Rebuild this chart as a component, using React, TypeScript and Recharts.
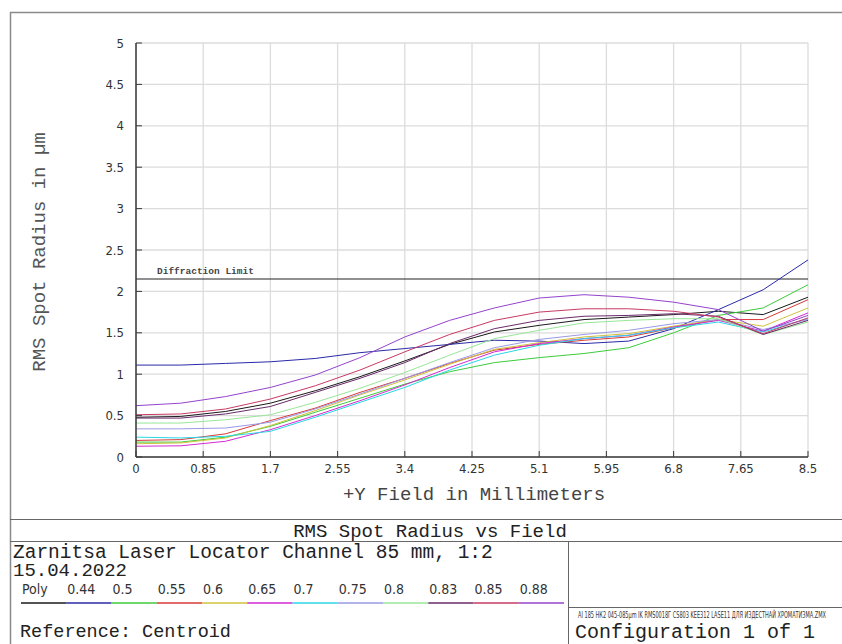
import { LineChart, Line, XAxis, YAxis, CartesianGrid, ReferenceLine } from "recharts";

// field points in mm (16 samples across the field)
const fieldMm = [0, 0.567, 1.133, 1.7, 2.267, 2.833, 3.4, 3.967, 4.533, 5.1, 5.667, 6.233, 6.8, 7.367, 7.933, 8.5];

// RMS spot radius (um) per wavelength
const poly = [0.48, 0.49, 0.55, 0.65, 0.8, 0.97, 1.16, 1.36, 1.51, 1.59, 1.66, 1.69, 1.72, 1.76, 1.72, 1.93];
const w044 = [1.11, 1.11, 1.13, 1.15, 1.19, 1.26, 1.31, 1.36, 1.41, 1.4, 1.37, 1.4, 1.55, 1.78, 2.02, 2.38];
const w050 = [0.18, 0.18, 0.24, 0.37, 0.54, 0.71, 0.88, 1.03, 1.14, 1.2, 1.25, 1.32, 1.5, 1.71, 1.8, 2.08];
const w055 = [0.2, 0.21, 0.28, 0.44, 0.59, 0.78, 0.95, 1.13, 1.29, 1.36, 1.41, 1.45, 1.56, 1.66, 1.66, 1.9];
const w060 = [0.16, 0.17, 0.23, 0.38, 0.56, 0.75, 0.93, 1.12, 1.3, 1.38, 1.45, 1.49, 1.58, 1.66, 1.58, 1.8];
const w065 = [0.13, 0.135, 0.19, 0.33, 0.5, 0.68, 0.87, 1.08, 1.27, 1.37, 1.43, 1.47, 1.57, 1.65, 1.52, 1.74];
const w070 = [0.24, 0.23, 0.25, 0.31, 0.48, 0.66, 0.84, 1.05, 1.23, 1.35, 1.43, 1.47, 1.56, 1.63, 1.51, 1.67];
const w075 = [0.34, 0.34, 0.35, 0.42, 0.58, 0.76, 0.95, 1.14, 1.32, 1.42, 1.48, 1.53, 1.61, 1.66, 1.54, 1.66];
const w080 = [0.41, 0.41, 0.45, 0.51, 0.66, 0.83, 1.02, 1.23, 1.43, 1.53, 1.62, 1.65, 1.67, 1.67, 1.48, 1.63];
const w083 = [0.47, 0.47, 0.52, 0.61, 0.78, 0.95, 1.14, 1.37, 1.55, 1.65, 1.7, 1.71, 1.73, 1.7, 1.48, 1.65];
const w085 = [0.51, 0.52, 0.58, 0.7, 0.86, 1.05, 1.27, 1.48, 1.65, 1.75, 1.79, 1.79, 1.76, 1.69, 1.49, 1.68];
const w088 = [0.62, 0.65, 0.73, 0.84, 0.99, 1.2, 1.45, 1.65, 1.8, 1.92, 1.96, 1.93, 1.87, 1.78, 1.52, 1.71];

const seriesNames = ["Poly", "0.44", "0.5", "0.55", "0.6", "0.65", "0.7", "0.75", "0.8", "0.83", "0.85", "0.88"];
const seriesValues = [poly, w044, w050, w055, w060, w065, w070, w075, w080, w083, w085, w088];
const seriesColors = [
  "#1a1a1a", // poly
  "#2a2aa8", // 0.44 blue
  "#3ccc3c", // 0.5 green
  "#d83a3a", // 0.55 red
  "#cfc23c", // 0.6 yellow
  "#d22ad2", // 0.65 magenta
  "#2ad6e6", // 0.7 cyan
  "#9a9ae6", // 0.75 lavender
  "#98e698", // 0.8 light green
  "#6a2a6a", // 0.83 dark purple
  "#c83a64", // 0.85 crimson
  "#9444cc", // 0.88 purple
];

const xTicks = [0, 0.85, 1.7, 2.55, 3.4, 4.25, 5.1, 5.95, 6.8, 7.65, 8.5];
const yTicks = [0, 0.5, 1, 1.5, 2, 2.5, 3, 3.5, 4, 4.5, 5];
const diffractionLimit = 2.15;

const chartData = fieldMm.map((f, i) => {
  const row: any = { field: f };
  seriesNames.forEach((name, s) => {
    row[name] = seriesValues[s][i];
  });
  return row;
});

const W = 842;
const H = 644;
const MONO = "'Liberation Mono', 'Courier New', monospace";
const NARROW = "'Liberation Sans Narrow', 'DejaVu Sans Condensed', sans-serif";
const AXIS = "#3a3a3a";

const TICK = 6;
const GAP = 6;

const LeftTick = ({ x, y, payload }: any) => {
  const ax = x + TICK + GAP;
  return (
    <g>
      <line x1={ax} x2={ax + TICK} y1={y} y2={y} stroke={AXIS} />
      <text x={x} y={y} dy="0.36em" textAnchor="end" fontFamily={NARROW} fontSize={13} fill="#333">
        {String(payload.value)}
      </text>
    </g>
  );
};

const BottomTick = ({ x, y, payload }: any) => {
  const ay = y - TICK;
  return (
    <g>
      <line x1={x} x2={x} y1={ay} y2={ay - TICK} stroke={AXIS} />
      <text x={x} y={y} dy="0.8em" textAnchor="middle" fontFamily={NARROW} fontSize={13} fill="#333">
        {String(payload.value)}
      </text>
    </g>
  );
};

const RightTick = ({ x, y }: any) => {
  const ax = x - TICK - GAP;
  return <line x1={ax} x2={ax - TICK} y1={y} y2={y} stroke={AXIS} />;
};

const TopTick = ({ x, y }: any) => {
  const ay = y + TICK + GAP;
  return <line x1={x} x2={x} y1={ay} y2={ay + TICK} stroke={AXIS} />;
};

const DiffLabel = ({ viewBox }: any) => {
  if (!viewBox) return null;
  return (
    <text x={viewBox.x + 21} y={viewBox.y - 5} fontFamily={MONO} fontSize={9.5} fontWeight="bold" fill="#444">
      Diffraction Limit
    </text>
  );
};

// x positions of the legend segments in the lower panel
const legendStart = 21;
const legendStep = 45.25;

export default function App() {
  return (
    <div style={{ position: "absolute", left: 0, top: 0, width: W, height: H, background: "#fff", overflow: "hidden" }}>
      <LineChart
        width={W}
        height={H}
        data={chartData}
        margin={{ top: 43, right: 34, bottom: 157, left: 80 }}
        style={{ position: "absolute", left: 0, top: 0 }}
      >
        <CartesianGrid stroke="#dcdcdc" strokeWidth={1.3} />
        <XAxis
          dataKey="field"
          type="number"
          domain={[0, 8.5]}
          ticks={xTicks}
          allowDataOverflow
          height={30}
          tickSize={TICK}
          tickMargin={0}
          tickLine={false}
          axisLine={{ stroke: AXIS, strokeWidth: 1.5 }}
          tick={<BottomTick />}
          interval={0}
        />
        <XAxis
          xAxisId="top"
          orientation="top"
          type="number"
          domain={[0, 8.5]}
          ticks={xTicks}
          height={0}
          tickSize={TICK}
          tickMargin={GAP}
          tickLine={false}
          axisLine={{ stroke: AXIS, strokeWidth: 1.5 }}
          tick={<TopTick />}
          interval={0}
        />
        <YAxis
          type="number"
          domain={[0, 5]}
          ticks={yTicks}
          width={56}
          tickSize={TICK}
          tickMargin={GAP}
          tickLine={false}
          axisLine={{ stroke: AXIS, strokeWidth: 1.5 }}
          tick={<LeftTick />}
          interval={0}
        />
        <YAxis
          yAxisId="right"
          orientation="right"
          type="number"
          domain={[0, 5]}
          ticks={yTicks}
          width={0}
          tickSize={TICK}
          tickMargin={GAP}
          tickLine={false}
          axisLine={{ stroke: AXIS, strokeWidth: 1.5 }}
          tick={<RightTick />}
          interval={0}
        />
        <ReferenceLine y={diffractionLimit} stroke="#222" strokeWidth={1.2} label={<DiffLabel />} />
        {seriesNames.map((name, s) => (
          <Line
            key={name}
            dataKey={name}
            type="linear"
            stroke={seriesColors[s]}
            strokeWidth={1}
            dot={false}
            isAnimationActive={false}
          />
        ))}
      </LineChart>

      <svg width={W} height={H} style={{ position: "absolute", left: 0, top: 0, pointerEvents: "none" }}>
        {/* outer frame */}
        <line x1={10.5} x2={10.5} y1={12} y2={H} stroke="#8a8a8a" strokeWidth={1.5} />
        <line x1={10} x2={W} y1={12.5} y2={12.5} stroke="#8a8a8a" strokeWidth={1.5} />

        <text x={45} y={252} transform="rotate(-90 45 252)" textAnchor="middle" fontFamily={MONO} fontSize={19} fill="#555">
          RMS Spot Radius in µm
        </text>
        <text x={474} y={500} textAnchor="middle" fontFamily={MONO} fontSize={19} fill="#444">
          +Y Field in Millimeters
        </text>

        {/* lower info panel */}
        <line x1={10} x2={W} y1={519.5} y2={519.5} stroke="#666" />
        <text x={430} y={537} textAnchor="middle" fontFamily={MONO} fontSize={19} fill="#222">
          RMS Spot Radius vs Field
        </text>
        <line x1={10} x2={W} y1={541.5} y2={541.5} stroke="#666" />
        <line x1={568.5} x2={568.5} y1={541} y2={H} stroke="#666" />
        <line x1={568} x2={W} y1={607.5} y2={607.5} stroke="#666" />

        <text x={13} y={558} fontFamily={MONO} fontSize={19.5} fill="#222">
          Zarnitsa Laser Locator Channel 85 mm, 1:2
        </text>
        <text x={13} y={576} fontFamily={MONO} fontSize={19} fill="#222">
          15.04.2022
        </text>
        {seriesNames.map((name, s) => {
          const x0 = legendStart + s * legendStep;
          return (
            <g key={name}>
              <text x={x0 + 1} y={594} fontFamily={NARROW} fontSize={14} fill="#333">
                {name}
              </text>
              <line x1={x0} x2={x0 + legendStep} y1={603} y2={603} stroke={seriesColors[s]} strokeWidth={1.3} />
            </g>
          );
        })}
        <text x={20} y={637} fontFamily={MONO} fontSize={18.5} fill="#222">
          Reference: Centroid
        </text>

        <text x={578} y={618} fontFamily={NARROW} fontSize={8} fill="#333" textLength={248} lengthAdjust="spacingAndGlyphs">
          AI 185 НК2 045-085µm IK RMS0018Г CS803 KEE312 LASE11 ДЛЯ ИЗДЕСТНАЙ ХРОМАТИЗМА.ZMX
        </text>
        <text x={575} y={638} fontFamily={MONO} fontSize={20} fill="#222">
          Configuration 1 of 1
        </text>
      </svg>
    </div>
  );
}
